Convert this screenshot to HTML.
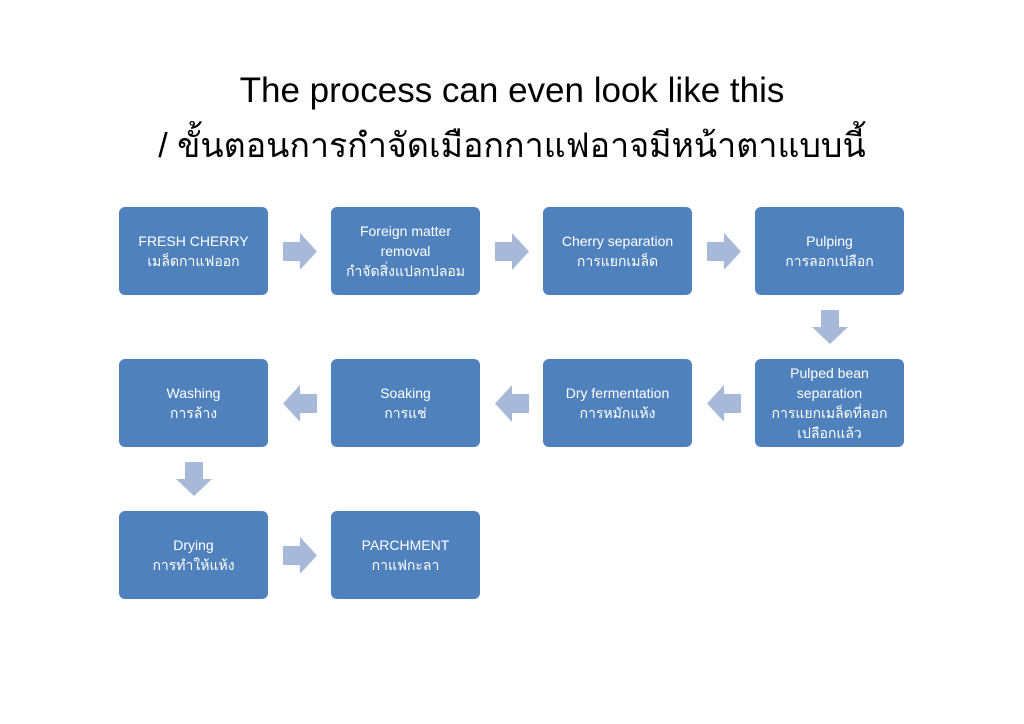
<!DOCTYPE html>
<html><head><meta charset="utf-8"><style>
body{margin:0;width:1024px;height:724px;background:#fff;position:relative;overflow:hidden;font-family:"Liberation Sans","DejaVu Sans",sans-serif}
.t{position:absolute;left:0;width:1024px;text-align:center;font-size:33px;color:#000}
.b{position:absolute;width:149px;height:88px;background:#4f81bd;border-radius:6px;color:#fff;font-size:14px;line-height:20px;display:flex;align-items:center;justify-content:center;text-align:center;box-sizing:border-box;padding:0 6px}
svg{position:absolute;left:0;top:0}
</style></head><body>
<div class="t" style="top:71px;font-size:35px">The process can even look like this</div>
<div class="t" style="top:118px;font-size:34px">/ ขั้นตอนการกำจัดเมือกกาแฟอาจมีหน้าตาแบบนี้</div>
<svg width="1024" height="724">
<g fill="#a7b9d9">
<path id="r" d="M283,242h17v-9l17,18.5l-17,18.5v-9h-17z"/>
<use href="#r" x="212"/><use href="#r" x="424"/>
<use href="#r" y="304"/>
<path d="M317,394h-17v-9l-17,18.5l17,18.5v-9h17z"/>
<path d="M317,394h-17v-9l-17,18.5l17,18.5v-9h17z" transform="translate(212,0)"/>
<path d="M317,394h-17v-9l-17,18.5l17,18.5v-9h17z" transform="translate(424,0)"/>
<path d="M821,310h18v17h9l-18,17l-18,-17h9z"/>
<path d="M821,310h18v17h9l-18,17l-18,-17h9z" transform="translate(-636,152)"/>
</g></svg>
<div class="b" style="left:119px;top:207px">FRESH CHERRY<br>เมล็ดกาแฟออก</div>
<div class="b" style="left:331px;top:207px">Foreign matter<br>removal<br>กำจัดสิ่งแปลกปลอม</div>
<div class="b" style="left:543px;top:207px">Cherry separation<br>การแยกเมล็ด</div>
<div class="b" style="left:755px;top:207px">Pulping<br>การลอกเปลือก</div>
<div class="b" style="left:119px;top:359px">Washing<br>การล้าง</div>
<div class="b" style="left:331px;top:359px">Soaking<br>การแช่</div>
<div class="b" style="left:543px;top:359px">Dry fermentation<br>การหมักแห้ง</div>
<div class="b" style="left:755px;top:359px">Pulped bean<br>separation<br>การแยกเมล็ดที่ลอก<br>เปลือกแล้ว</div>
<div class="b" style="left:119px;top:511px">Drying<br>การทำให้แห้ง</div>
<div class="b" style="left:331px;top:511px">PARCHMENT<br>กาแฟกะลา</div>
</body></html>
